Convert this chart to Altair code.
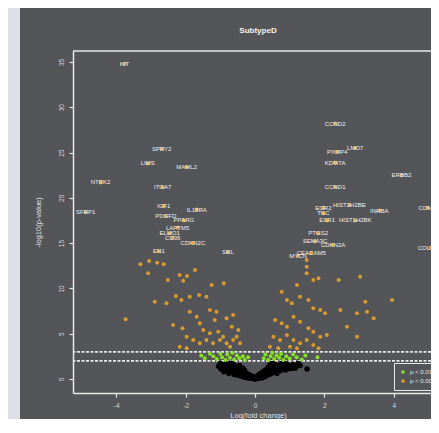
import altair as alt
import pandas as pd

# ---------------- data ----------------
# not significant (black)
ns_x = [-1.05, -0.98, -0.95, -0.9, -0.88, -0.82, -0.8, -0.75, -0.72, -0.7, -0.66, -0.62, -0.6, -0.58,
        -0.55, -0.52, -0.5, -0.47, -0.45, -0.42, -0.4, -0.38, -0.35, -0.32, -0.3, -0.28, -0.25, -0.22,
        -0.2, -0.17, -0.15, -0.12, -0.1, -0.07, -0.05, -0.02, 0.02, 0.05, 0.08, 0.1, 0.13, 0.16, 0.18,
        0.2, 0.23, 0.25, 0.28, 0.3, 0.33, 0.36, 0.38, 0.4, 0.43, 0.45, 0.48, 0.5, 0.53, 0.55, 0.58, 0.6,
        0.63, 0.66, 0.7, 0.73, 0.76, 0.8, 0.84, 0.88, 0.92, 0.96, 1.0, 1.05, 1.1, 1.16, 1.18, 1.3, 1.5,
        -0.85, -0.65, -0.5, -0.3, 0.35, 0.6, 0.9, -1.0, -0.92, -0.78, -0.68, -0.56, -0.44, -0.36,
        -0.26, -0.14, 0.0, 0.12, 0.22, 0.32, 0.42, 0.52, 0.64, 0.74, 0.86, 0.98, 1.08, 1.25]
ns_y = [1.4, 1.1, 1.6, 0.8, 1.3, 1.7, 1.0, 0.6, 1.4, 1.2, 0.9, 1.6, 0.5, 1.1,
        1.35, 0.75, 0.4, 1.0, 1.5, 0.6, 0.3, 0.85, 1.2, 0.45, 0.2, 0.7, 0.35, 0.15,
        0.55, 0.25, 0.08, 0.4, 0.15, 0.05, 0.25, 0.02, 0.1, 0.3, 0.05, 0.45, 0.2, 0.6, 0.35,
        0.1, 0.8, 0.5, 0.25, 1.0, 0.65, 0.4, 1.3, 0.85, 1.55, 0.55, 1.1, 1.7, 0.75, 1.35, 1.0, 1.6,
        0.6, 1.25, 1.5, 0.9, 1.7, 1.2, 1.45, 1.0, 1.6, 1.3, 1.5, 1.15, 1.6, 1.2, 1.35, 1.5, 1.1,
        1.5, 1.3, 0.8, 0.95, 0.9, 0.95, 1.3, 1.75, 1.2, 1.5, 1.75, 0.95, 1.25, 0.6,
        0.5, 0.2, 0.0, 0.15, 0.3, 0.55, 0.7, 1.45, 1.0, 1.4, 1.75, 1.15, 1.4, 1.7]

# p < 0.01 (green)
g_x = [-1.55, -1.45, -1.3, -1.2, -1.1, -1.0, -0.95, -0.85, -0.8, -0.72, -0.65, -0.6, -0.52, -0.45,
       -0.35, -0.3, -0.2, 0.25, 0.3, 0.38, 0.45, 0.5, 0.55, 0.62, 0.7, 0.75, 0.82, 0.9, 1.0, 1.1,
       1.2, 1.35, 1.45, 1.8]
g_y = [2.6, 2.3, 2.8, 2.5, 2.2, 2.8, 2.4, 2.1, 2.7, 2.35, 2.9, 2.15, 2.6, 2.3,
       2.5, 2.1, 2.4, 2.3, 2.7, 2.1, 2.5, 2.9, 2.2, 2.6, 2.35, 2.8, 2.1, 2.5, 2.25, 2.7,
       2.4, 2.15, 2.6, 2.4]

# p < 0.001 (orange)
o_x = [-3.30, -3.05, -2.82, -2.63, -3.08, -2.17, -1.96, -1.73, -2.51, -2.07, -1.25, -0.90, -2.89,
       -2.55, -2.28, -2.12, -1.88, -1.61, -1.40, -3.73, -2.36, -2.09, -1.88, -1.68, -1.30, -1.11,
       -1.16, -0.82, -0.63, -1.59, -1.49, -1.30, -1.06, -0.92, -0.67, -0.48, -1.97, -1.78, -1.59,
       -1.40, -1.21, -1.01, -0.82, -0.63, -0.43, -2.17, -1.97, -0.72, -0.53,
       1.49, 1.49, 1.49, 1.68, 1.83, 2.41, 3.03, 1.21, 0.77, 0.92, 1.06, 1.30, 1.54, 1.68, 1.88,
       2.02, 2.46, 2.94, 3.23, 3.18, 3.95, 3.42, 2.65, 2.94, 0.58, 0.77, 0.92, 1.11, 1.30, 1.54,
       1.68, 1.88, 2.07, 0.53, 0.72, 0.92, 1.11, 1.30, 1.49, 1.68, 1.83, 0.43, 0.67, 1.01, 1.21]
o_y = [12.66, 13.02, 12.84, 12.66, 11.67, 11.48, 11.37, 12.03, 10.93, 10.85, 10.38, 10.56, 8.53,
       8.36, 9.16, 8.72, 9.08, 9.27, 9.08, 6.59, 5.96, 5.60, 7.43, 6.88, 7.62, 7.43,
       6.51, 6.70, 7.06, 6.15, 5.41, 5.04, 5.22, 4.67, 5.77, 5.41, 4.67, 4.30, 3.94,
       4.30, 3.94, 4.30, 3.94, 4.30, 3.94, 3.57, 3.39, 3.57, 4.67,
       13.13, 12.40, 11.67, 10.93, 11.11, 10.93, 11.29, 10.38, 9.64, 8.72, 8.36, 9.08, 8.72, 7.80, 7.62,
       7.25, 7.62, 7.25, 7.43, 8.53, 8.72, 6.70, 5.77, 4.67, 6.51, 6.15, 5.77, 6.88, 6.32, 5.60,
       5.22, 4.67, 4.86, 4.67, 4.30, 4.86, 4.30, 3.94, 4.30, 3.75, 3.39, 3.57, 3.39, 3.57, 3.39]

# labelled genes (also p < 0.001)
genes = ["KIT", "SPRY2", "LIMS", "MAML2", "NTRK2", "ITGA7", "IGF1", "IL18RA", "SFRP1", "PDGFD",
         "PPARG", "LAPTM5", "ELMO1", "CD36", "CDKN2C", "EN1", "SRL",
         "CCND2", "LMO7", "PXMP4", "KDM7A", "ERBB2", "CCND1", "HIST2H2BE", "INHBA", "COMP",
         "EGR2", "TNC", "ESR1", "HIST1H2BK", "PTGS2", "SEMA3C", "CDKN2A", "CEACAM5", "MYCN",
         "COL11A1"]
gene_x = [-3.76, -2.69, -3.09, -1.97, -4.45, -2.66, -2.63, -1.68, -4.88, -2.57,
          -2.05, -2.23, -2.46, -2.37, -1.79, -2.77, -0.78,
          2.31, 2.89, 2.37, 2.31, 4.22, 2.31, 2.72, 3.58, 4.97,
          1.97, 1.97, 2.08, 2.89, 1.82, 1.73, 2.25, 1.62, 1.24, 5.06]
gene_y = [34.8, 25.4, 23.8, 23.4, 21.7, 21.2, 19.1, 18.7, 18.4, 18.0,
          17.5, 16.7, 16.1, 15.6, 15.0, 14.1, 14.0,
          28.2, 25.5, 25.1, 23.9, 22.5, 21.2, 19.2, 18.6, 18.9,
          18.9, 18.3, 17.5, 17.5, 16.1, 15.2, 14.8, 13.9, 13.6, 14.5]

thresholds = [2, 3]
x_ticks = [-4, -2, 0, 2, 4]
y_ticks = [0, 5, 10, 15, 20, 25, 30, 35]
sig_labels = ["p < 0.01", "p < 0.001"]
title_text = ["SubtypeD"]

# ---------------- styling ----------------
BG = "#545559"
STRIP = "#dfe0e7"
FG = "#e8e8e8"
GREEN = "#86e026"
ORANGE = "#dc9a2c"
FONT = "Liberation Sans"
W, H = 358, 342
PAD = {"left": 65, "top": 43, "right": 0, "bottom": 26}

ns_df = pd.DataFrame({"x": ns_x, "y": ns_y})
sig_df = pd.concat([
    pd.DataFrame({"x": g_x, "y": g_y, "sig": sig_labels[0]}),
    pd.DataFrame({"x": o_x, "y": o_y, "sig": sig_labels[1]}),
    pd.DataFrame({"x": gene_x, "y": gene_y, "sig": sig_labels[1]}),
], ignore_index=True)
gene_df = pd.DataFrame({"gene": genes, "x": gene_x, "y": gene_y})
thr_df = pd.DataFrame({"y": thresholds})

xscale = alt.Scale(domain=[-5.245, 5.072], nice=False, zero=False)
yscale = alt.Scale(domain=[-1.546, 36.21], nice=False, zero=False)

xaxis = alt.Axis(values=x_ticks, labelExpr="'' + datum.value", grid=False,
                 title="Log(fold change)", titleX=185, titleY=22, titleAlign="center",
                 titleBaseline="middle", titleFontSize=7.5, titleFontWeight="normal",
                 labelFontSize=6.5, labelPadding=5, tickSize=4)
yaxis = alt.Axis(values=y_ticks, labelExpr="'' + datum.value", grid=False,
                 title="-log10(p-value)", titleX=-35, titleY=H / 2, titleAngle=270,
                 titleAlign="center", titleBaseline="middle", titleFontSize=7.5,
                 titleFontWeight="normal", labelAngle=270, labelAlign="center",
                 labelBaseline="bottom", labelFontSize=6.5, labelPadding=5, tickSize=4)

X = alt.X("x:Q", scale=xscale, axis=xaxis)
Y = alt.Y("y:Q", scale=yscale, axis=yaxis)

strip = alt.Chart(pd.DataFrame({"a": [0]})).mark_rect(color=STRIP).encode(
    x=alt.value(-PAD["left"]), x2=alt.value(-PAD["left"] + 12),
    y=alt.value(-PAD["top"]), y2=alt.value(H + PAD["bottom"]))

top_line = alt.Chart(pd.DataFrame({"a": [0]})).mark_rule(color=FG, strokeWidth=1.5).encode(
    y=alt.value(0), x=alt.value(0), x2=alt.value(W))

title = alt.Chart(pd.DataFrame({"t": title_text})).mark_text(
    fontSize=8, fontWeight="bold", color="#f4f4f4", font=FONT,
    align="center", baseline="middle").encode(
    text="t:N", x=alt.value(185), y=alt.value(-20))

rules = alt.Chart(thr_df).mark_rule(color=FG, strokeWidth=1.8, strokeDash=[3, 1.5]).encode(
    y=alt.Y("y:Q", scale=yscale, axis=yaxis))

black = alt.Chart(ns_df).mark_circle(color="#000000", size=30, opacity=1).encode(x=X, y=Y)

colored = alt.Chart(sig_df).mark_circle(size=16, opacity=1).encode(
    x=X, y=Y,
    color=alt.Color("sig:N", scale=alt.Scale(domain=sig_labels, range=[GREEN, ORANGE]),
                    legend=alt.Legend(orient="none", legendX=321, legendY=312, title=None,
                                      fillColor=BG, strokeColor=FG, padding=6,
                                      labelFontSize=6, labelColor=FG, labelFont=FONT,
                                      symbolSize=14, symbolType="circle",
                                      symbolStrokeWidth=0, rowPadding=3, labelOffset=4)))

labels = alt.Chart(gene_df).mark_text(fontSize=6, color="#f0f0f0", font=FONT,
                                      align="center", baseline="middle").encode(
    x=X, y=Y, text="gene:N")

chart = alt.layer(strip, top_line, title, rules, black, colored, labels).properties(
    width=W, height=H,
    padding=PAD,
    autosize=alt.AutoSizeParams(type="none"),
    background=BG,
).configure_view(stroke=None).configure_axis(
    domainColor=FG, domainWidth=1.5, tickColor=FG, tickWidth=1.2,
    labelColor="#d8d8d8", titleColor="#e0e0e0", labelFont=FONT, titleFont=FONT)

chart.save("out.html", embed_options={"renderer": "svg", "actions": False})
